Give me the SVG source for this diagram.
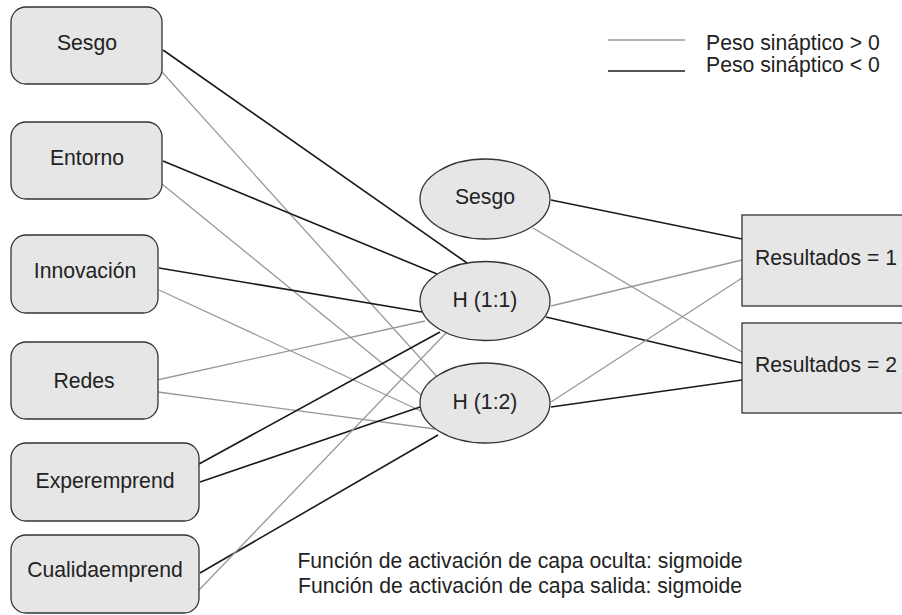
<svg xmlns="http://www.w3.org/2000/svg" width="902" height="615" viewBox="0 0 902 615">
<style>
.box{fill:#e6e6e6;stroke:#333;stroke-width:1.3}
.t{font-family:"Liberation Sans",Arial,sans-serif;font-size:21.2px;fill:#222}
.c{text-anchor:middle}
.pos{stroke:#999;stroke-width:1.3;fill:none}
.neg{stroke:#1a1a1a;stroke-width:1.6;fill:none}
</style>
<rect width="902" height="615" fill="#fff"/>
<g id="connectors">
<line class="neg" x1="163" y1="50" x2="467" y2="263"/>
<line class="pos" x1="162" y1="72" x2="440" y2="380"/>
<line class="neg" x1="163" y1="161" x2="437" y2="274"/>
<line class="pos" x1="162" y1="184" x2="425" y2="398"/>
<line class="neg" x1="159" y1="268" x2="422" y2="312"/>
<line class="pos" x1="159" y1="290" x2="423" y2="412"/>
<line class="pos" x1="157" y1="380" x2="425" y2="321"/>
<line class="pos" x1="158" y1="392" x2="435" y2="429"/>
<line class="neg" x1="199" y1="464" x2="440" y2="332"/>
<line class="neg" x1="200" y1="482" x2="420" y2="407"/>
<line class="neg" x1="200" y1="573" x2="438" y2="435"/>
<line class="pos" x1="199" y1="590" x2="446" y2="333"/>
<line class="neg" x1="551" y1="200" x2="742" y2="239"/>
<line class="pos" x1="533" y1="228" x2="742" y2="352"/>
<line class="pos" x1="551" y1="306" x2="742" y2="260"/>
<line class="neg" x1="546" y1="317" x2="742" y2="363"/>
<line class="pos" x1="551" y1="402" x2="742" y2="278"/>
<line class="neg" x1="551" y1="407" x2="742" y2="380"/>
</g>
<g id="in-sesgo"><rect class="box" x="11" y="7" width="151" height="77" rx="15"/><text class="t c" x="87" y="50">Sesgo</text></g>
<g id="in-entorno"><rect class="box" x="11" y="122" width="151" height="77" rx="15"/><text class="t c" x="87" y="165">Entorno</text></g>
<g id="in-innovacion"><rect class="box" x="11" y="235" width="147" height="78" rx="15"/><text class="t c" x="85" y="278">Innovación</text></g>
<g id="in-redes"><rect class="box" x="11" y="342" width="147" height="77" rx="15"/><text class="t c" x="84" y="388">Redes</text></g>
<g id="in-experemprend"><rect class="box" x="11" y="443" width="188" height="78" rx="15"/><text class="t c" x="105" y="488">Experemprend</text></g>
<g id="in-cualidaemprend"><rect class="box" x="11" y="535" width="188" height="78" rx="15"/><text class="t c" x="105" y="577">Cualidaemprend</text></g>
<g id="h-sesgo"><ellipse class="box" cx="485" cy="199" rx="65" ry="40"/><text class="t c" x="485" y="204">Sesgo</text></g>
<g id="h11"><ellipse class="box" cx="485" cy="301" rx="65" ry="39.5"/><text class="t c" x="485" y="307">H (1:1)</text></g>
<g id="h12"><ellipse class="box" cx="485" cy="403" rx="65" ry="40"/><text class="t c" x="485" y="409">H (1:2)</text></g>
<g id="out1"><rect class="box" x="742" y="215" width="170" height="91"/><text class="t" x="755" y="265">Resultados = 1</text></g>
<g id="out2"><rect class="box" x="742" y="323" width="170" height="90"/><text class="t" x="755" y="372">Resultados = 2</text></g>
<g id="legend">
<line class="pos" x1="608" y1="40" x2="685" y2="40"/>
<line class="neg" x1="608" y1="71" x2="685" y2="71"/>
<text class="t" x="706" y="50">Peso sináptico &gt; 0</text>
<text class="t" x="706" y="72">Peso sináptico &lt; 0</text>
</g>
<g id="notes">
<text class="t c" x="520" y="568">Función de activación de capa oculta: sigmoide</text>
<text class="t c" x="520" y="593">Función de activación de capa salida: sigmoide</text>
</g>
</svg>
